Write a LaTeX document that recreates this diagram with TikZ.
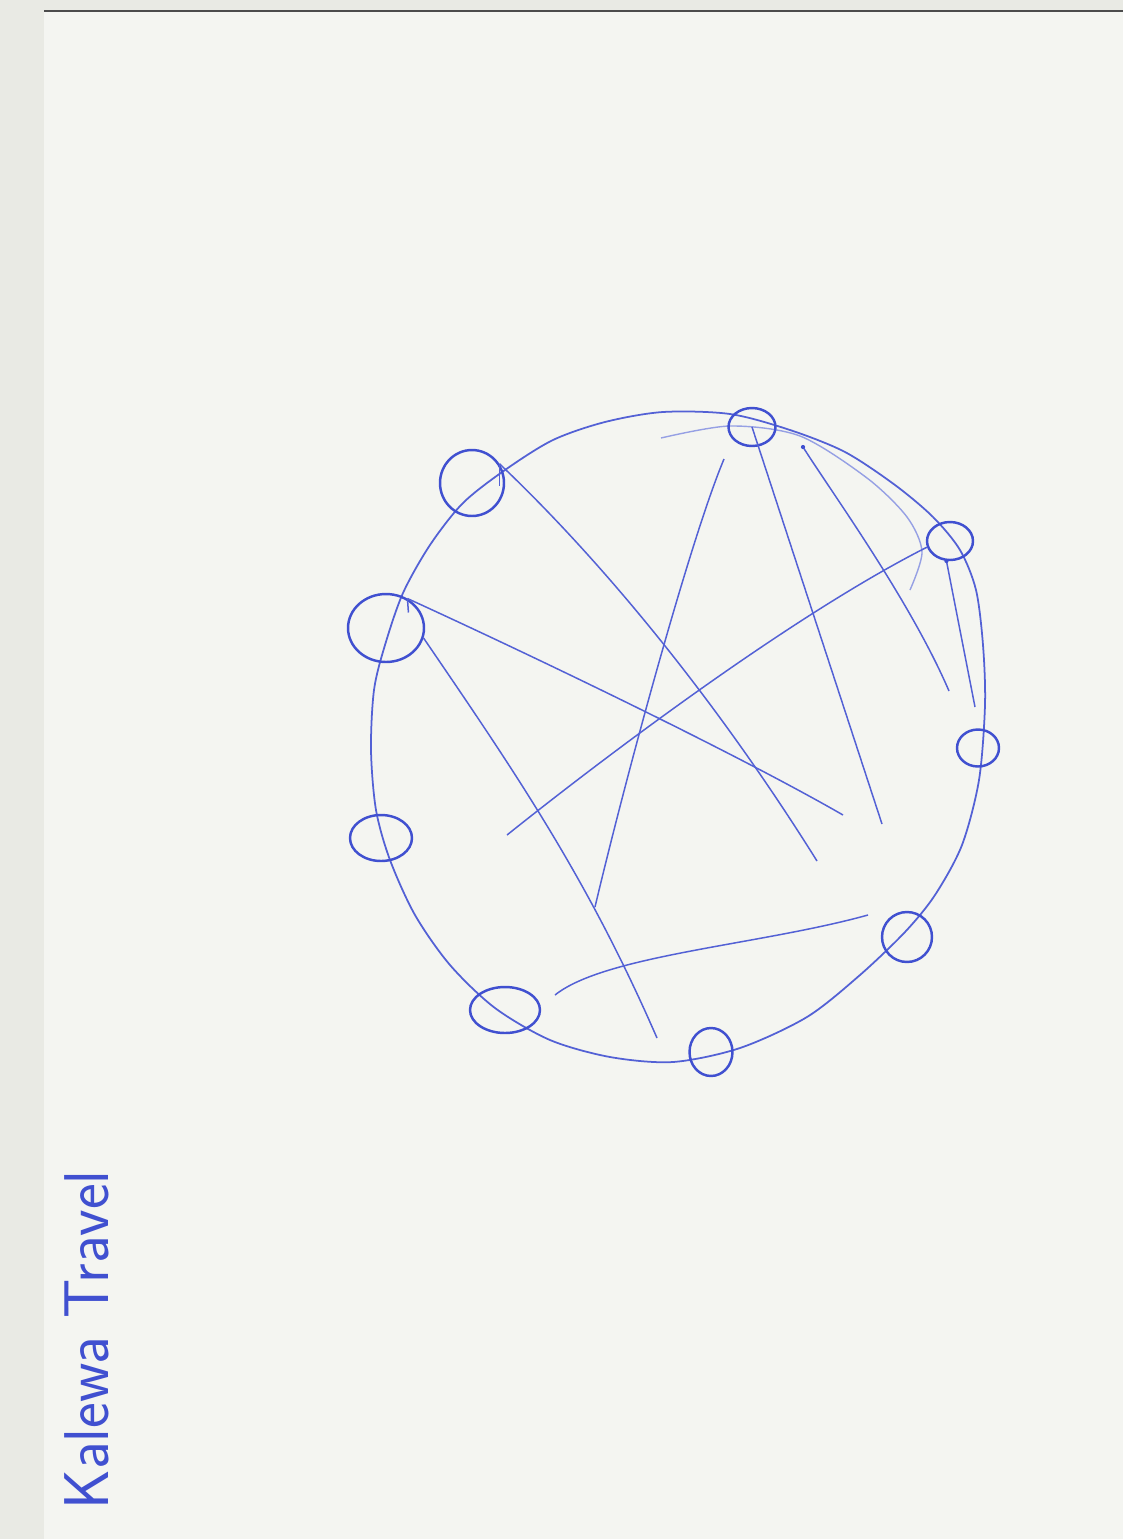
\documentclass[tikz,border=0pt]{standalone}
\usepackage{xcolor}
\usepackage{graphicx}
\usepackage{tikz}
\usetikzlibrary{arrows.meta, positioning, shapes.geometric}

\definecolor{ink}{RGB}{64,80,208}
\definecolor{inkfaint}{RGB}{150,160,228}
\definecolor{paper}{RGB}{244,245,241}
\definecolor{paperedge}{RGB}{233,234,228}

\begin{document}
\begin{tikzpicture}[
    x=0.02cm, y=-0.02cm,
    spot/.style={ellipse, draw=ink, line width=1.4pt, inner sep=0pt},
    link/.style={ink!90, line width=0.85pt},
    faint/.style={inkfaint, line width=0.8pt},
    every node/.style={font=\sffamily}
  ]
  % Sheet
  \useasboundingbox (0,0) rectangle (1123,1539);
  \fill[paper] (0,0) rectangle (1123,1539);
  \fill[paperedge] (0,0) rectangle (44,1539);
  \fill[paperedge] (0,0) rectangle (1123,11);
  \draw[black!70, line width=1pt] (44,11) -- (1123,11);

  % Ring
  \draw[link, line width=1pt] plot[smooth cycle] coordinates {
    (663,412) (730,414) (790,430) (845,452) (895,485) (933,517) (960,550)
    (976,590) (983,645) (985,705) (979,780) (962,845) (935,895) (905,932)
    (860,975) (807,1017) (740,1048) (673,1062) (610,1057) (550,1040)
    (495,1008) (450,965) (415,915) (390,860) (376,810) (371,750)
    (374,690) (385,645) (403,593) (430,545) (463,503) (505,470) (553,440)
    (605,422)};
  \draw[faint] plot[smooth] coordinates {
    (661,438) (730,426) (800,436) (867,478) (907,517) (922,552) (910,590)};

  % Stops
  \node[spot, minimum width=0.94cm, minimum height=0.76cm] (tn) at (752,427) {};
  \node[spot, minimum width=1.28cm, minimum height=1.32cm] (ul) at (472,483) {};
  \node[spot, minimum width=1.52cm, minimum height=1.36cm] (lt) at (386,628) {};
  \node[spot, minimum width=1.24cm, minimum height=0.92cm] (ll) at (381,838) {};
  \node[spot, minimum width=1.40cm, minimum height=0.92cm] (bl) at (505,1010) {};
  \node[spot, minimum width=0.86cm, minimum height=0.96cm] (bt) at (711,1052) {};
  \node[spot, minimum width=1.00cm, minimum height=1.00cm] (br) at (907,937) {};
  \node[spot, minimum width=0.84cm, minimum height=0.74cm] (rt) at (978,748) {};
  \node[spot, minimum width=0.92cm, minimum height=0.76cm] (ur) at (950,541) {};

  % Loose ends
  \coordinate (e1) at (817,861);
  \coordinate (e2) at (843,815);
  \coordinate (e3) at (657,1038);
  \coordinate (e4) at (507,835);
  \coordinate (s5) at (724,459);
  \coordinate (e5) at (595,907);
  \coordinate (e6) at (882,824);
  \coordinate (s7) at (803,447);
  \coordinate (e7) at (949,691);
  \coordinate (e8) at (975,707);
  \coordinate (s9) at (555,995);
  \coordinate (e9) at (868,915);

  % Links
  \draw[link] (ul.35) .. controls (604,563) and (717,701) .. (e1);
  \draw[link] (lt.54) .. controls (520,650) and (730,750) .. (e2);
  \draw[link] (lt.-15) .. controls (515,772) and (587,877) .. (e3);
  \draw[link] (ur.195) .. controls (793,615) and (607,755) .. (e4);
  \draw[link] (s5) .. controls (690,540) and (625,780) .. (e5);
  \draw[link] (tn.center) -- (e6);
  \draw[link] (s7) .. controls (830,490) and (910,600) .. (e7);
  \draw[link] (ur.-100) -- (e8);
  \draw[link] (s9) .. controls (605,955) and (760,945) .. (e9);

  % Ticks
  \draw[link] (ul.35) -- ++(0,22);
  \draw[link] (lt.54) -- ++(1,14);
  \fill[ink] (s7) circle (1.2pt);
  \fill[ink] (ur.-100) circle (1.2pt);

  % Title
  \node[ink, rotate=90, anchor=base west, inner sep=0pt,
        font=\sffamily\fontsize{36}{40}\selectfont] (title) at (108,1510)
    {\scalebox{0.97}[1]{Kalewa Travel}};
\end{tikzpicture}
\end{document}
